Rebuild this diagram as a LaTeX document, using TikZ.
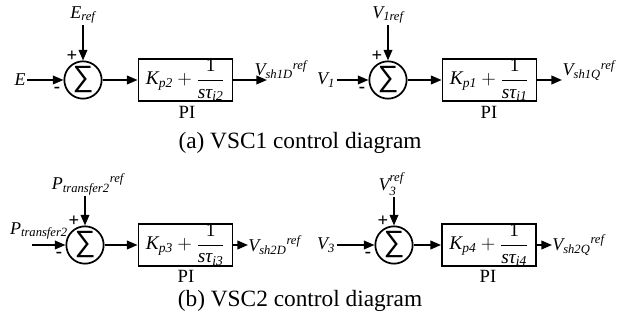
\documentclass[tikz,border=0pt]{standalone}
\usepackage{fontspec}
\setmainfont{Liberation Serif}
\newfontfamily\sumfont{Liberation Sans}
\usetikzlibrary{arrows.meta,calc}

\begin{document}
\begin{tikzpicture}[x=0.75pt, y=-0.75pt, >={Triangle[length=8pt,width=6.5pt]},
  line/.style={line width=1.3pt},
  sumnode/.style={circle, draw, line width=1.3pt, minimum size=28pt, inner sep=0pt,
    font=\sumfont\fontsize{22}{22}\selectfont},
  piblock/.style={draw, line width=1.4pt, minimum width=70.5pt, minimum height=30.5pt,
    inner sep=0pt, font=\fontsize{14.5}{16}\selectfont},
  lbl/.style={font=\itshape\fontsize{13.5}{15}\selectfont, inner sep=1pt},
  sig/.style={font=\bfseries\fontsize{14}{14}\selectfont, inner sep=0pt},
  pitxt/.style={font=\fontsize{14}{15}\selectfont, inner sep=0pt},
  caption/.style={font=\fontsize{17.5}{19}\selectfont}]

  \useasboundingbox (0,0) rectangle (622,327);

  % --- 1. VSC1: E loop ---
  \node[sumnode] (s1) at (83,80) {∑};
  \node[lbl] (E) at (20,80) {E};
  \node[lbl] (Eref) at (83,15) {E\textsubscript{ref}};
  \node[sig] (plus1) at ($(s1)+(-11,-24)$) {+};
  \node[sig] (minus1) at ($(s1)+(-26,10)$) {-};
  \node[piblock] (b1) at (185.5,80)
    {$\mbox{\itshape K\textsubscript{p2}}+\displaystyle\frac{\mbox{1}}{\mbox{\itshape sτ\textsubscript{i2}}}$};
  \node[pitxt] (pi1) at (187,112) {PI};
  \coordinate (o1) at (267,80);
  \node[lbl, anchor=base west] (Vd1) at (253,76) {V\textsubscript{sh1D}\textsuperscript{ref}};

  \draw[line,->] (E) -- (s1);
  \draw[line,->] (Eref) -- (s1);
  \draw[line,->] (s1) -- (b1);
  \draw[line,->] (b1) -- (o1);

  % --- 2. VSC1: V1 loop ---
  \node[sumnode] (s2) at (388,80) {∑};
  \node[lbl] (V1) at (326,80) {V\textsubscript{1}};
  \node[lbl] (V1ref) at (388,15) {V\textsubscript{1ref}};
  \node[sig] (plus2) at ($(s2)+(-11,-24)$) {+};
  \node[sig] (minus2) at ($(s2)+(-26,10)$) {-};
  \node[piblock] (b2) at (489.5,80)
    {$\mbox{\itshape K\textsubscript{p1}}+\displaystyle\frac{\mbox{1}}{\mbox{\itshape sτ\textsubscript{i1}}}$};
  \node[pitxt] (pi2) at (489,112) {PI};
  \coordinate (o2) at (562,80);
  \node[lbl, anchor=base west] (Vq1) at (561,76) {V\textsubscript{sh1Q}\textsuperscript{ref}};

  \draw[line,->] (V1) -- (s2);
  \draw[line,->] (V1ref) -- (s2);
  \draw[line,->] (s2) -- (b2);
  \draw[line,->] (b2) -- (o2);

  \node[caption] (capa) at (300,143) {(a) VSC1 control diagram};

  % --- 3. VSC2: P_transfer2 loop ---
  \node[sumnode] (s3) at (85,245) {∑};
  \coordinate (in3) at (32,245);
  \node[lbl] (P) at (39,231) {P\textsubscript{transfer2}};
  \node[lbl] (Pref) at (88,184) {P\textsubscript{transfer2}\textsuperscript{ref}};
  \node[sig] (plus3) at ($(s3)+(-11,-24)$) {+};
  \node[sig] (minus3) at ($(s3)+(-26,10)$) {-};
  \node[piblock] (b3) at (185.5,245)
    {$\mbox{\itshape K\textsubscript{p3}}+\displaystyle\frac{\mbox{1}}{\mbox{\itshape sτ\textsubscript{i3}}}$};
  \node[pitxt] (pi3) at (186,276) {PI};
  \node[lbl, anchor=west, inner sep=0pt] (Vd2) at (248,245) {V\textsubscript{sh2D}\textsuperscript{ref}};

  \draw[line,->] (in3) -- (s3);
  \draw[line,->] (s3 |- Pref.south) -- (s3);
  \draw[line,->] (s3) -- (b3);
  \draw[line,->] (b3.east) -- (Vd2.west);

  % --- 4. VSC2: V3 loop ---
  \node[sumnode] (s4) at (394,245) {∑};
  \node[lbl] (V3) at (326,245) {V\textsubscript{3}};
  \node[lbl] (V3ref) at (391,184)
    {V\rlap{\raisebox{-0.55ex}{\fontsize{9.5}{10}\selectfont 3}}\raisebox{1.1ex}{\fontsize{9.5}{10}\selectfont ref}};
  \node[sig] (plus4) at ($(s4)+(-11,-24)$) {+};
  \node[sig] (minus4) at ($(s4)+(-26,10)$) {-};
  \node[piblock] (b4) at (489,245)
    {$\mbox{\itshape K\textsubscript{p4}}+\displaystyle\frac{\mbox{1}}{\mbox{\itshape sτ\textsubscript{i4}}}$};
  \node[pitxt] (pi4) at (488,276) {PI};
  \node[lbl, anchor=west, inner sep=0pt] (Vq2) at (552,245) {V\textsubscript{sh2Q}\textsuperscript{ref}};

  \draw[line,->] (V3) -- (s4);
  \draw[line,->] (s4 |- V3ref.south) -- (s4);
  \draw[line,->] (s4) -- (b4);
  \draw[line,->] (b4.east) -- (Vq2.west);

  \node[caption] (capb) at (300,301) {(b) VSC2 control diagram};

\end{tikzpicture}
\end{document}
